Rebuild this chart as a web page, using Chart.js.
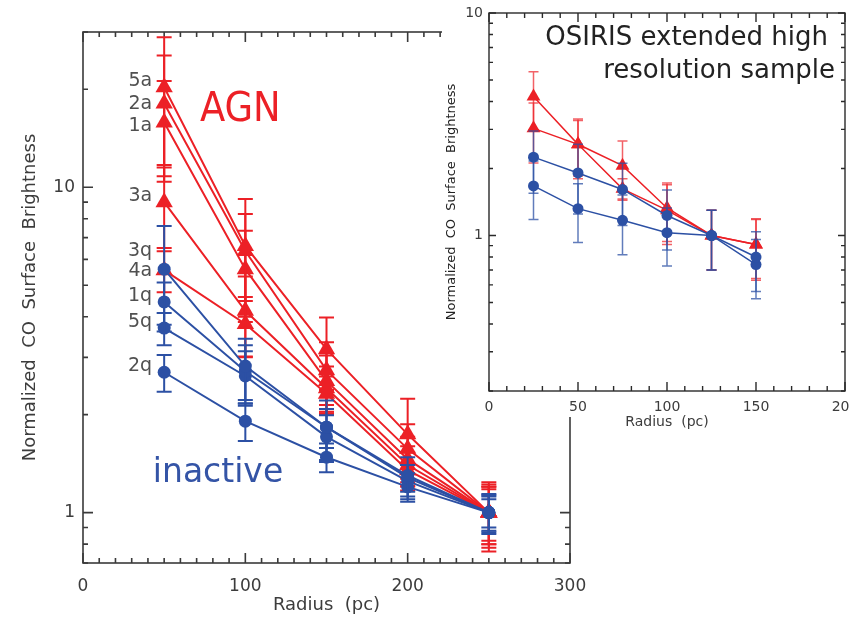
<!DOCTYPE html>
<html>
<head>
<meta charset="utf-8">
<script src="https://cdn.jsdelivr.net/npm/chart.js@4.4.1/dist/chart.umd.min.js"></script>
<style>
body { margin: 0; background: #fff; }
#wrap { position: relative; width: 854px; height: 622px; overflow: hidden; }
#main { position: absolute; left: 0; top: 0; }
#blank { position: absolute; left: 442px; top: 0; width: 412px; height: 417px; background: #fff; }
#insetBox { position: absolute; left: 442px; top: 0; width: 407px; height: 432px; overflow: hidden; }
</style>
</head>
<body>
<div id="wrap">
<canvas id="main" width="854" height="622"></canvas>
<div id="blank"></div>
<div id="insetBox"><canvas id="inset" width="440" height="432"></canvas></div>
</div>
<script>
Chart.defaults.font.family = '"DejaVu Sans", sans-serif';
Chart.defaults.color = '#3c3c3c';

var RED = 'rgb(236,32,38)';
var BLUE = 'rgb(44,80,164)';

// main panel, radius in pc
var radius = [50, 100, 150, 200, 250];

var agnTags = ['5a', '2a', '1a', '3a', '4a'];
var agn5a = [20.3, 6.6, 3.18, 1.74, 1.0];
var agn2a = [18.1, 6.37, 2.74, 1.57, 1.0];
var agn1a = [15.8, 5.6, 2.54, 1.46, 1.0];
var agn3a = [9.0, 4.17, 2.41, 1.40, 1.0];
var agn4a = [5.56, 3.8, 2.32, 1.35, 1.0];
var err5a = [8.6, 2.6, 0.8, 0.5, 0.22];
var err2a = [7.3, 1.9, 0.6, 0.3, 0.2];
var err1a = [5.4, 1.75, 0.5, 0.25, 0.18];
var err3a = [2.5, 1.15, 0.4, 0.2, 0.24];
var err4a = [0.8, 0.8, 0.3, 0.18, 0.2];

var inaTags = ['3q', '1q', '5q', '2q'];
var ina3q = [5.6, 2.82, 1.83, 1.30, 1.0];
var ina1q = [4.44, 2.72, 1.83, 1.28, 1.0];
var ina5q = [3.69, 2.63, 1.71, 1.25, 1.0];
var ina2q = [2.70, 1.91, 1.48, 1.20, 1.0];
var err3q = [2.0, 0.6, 0.38, 0.18, 0.13];
var err1q = [0.66, 0.55, 0.25, 0.12, 0.12];
var err5q = [0.42, 0.5, 0.28, 0.15, 0.14];
var err2q = [0.35, 0.25, 0.15, 0.12, 0.1];

// where the galaxy tags sit on the y axis
var agnTagAt = [21.2, 18.0, 15.4, 9.38, 5.52];
var inaTagAt = [6.36, 4.62, 3.85, 2.82];

var mainXLabels = [0, 100, 200, 300];
var mainYLabels = [1, 10];
var mainYTicks = [0.7, 0.8, 0.9, 1, 2, 3, 4, 5, 6, 7, 8, 9, 10, 20, 30];

// inset: OSIRIS sample
var osRadius = [25, 50, 75, 100, 125, 150];
var osAgnA = [4.21, 2.57, 2.06, 1.33, 1.0, 0.91];
var osAgnB = [3.03, 2.57, 1.62, 1.30, 1.0, 0.91];
var osInaC = [2.25, 1.91, 1.61, 1.23, 1.0, 0.80];
var osInaD = [1.67, 1.32, 1.17, 1.03, 1.0, 0.74];
var osErrA = [1.23, 0.72, 0.6, 0.39, 0.3, 0.28];
var osErrB = [0.91, 0.77, 0.18, 0.39, 0.3, 0.27];
var osErrC = [0.7, 0.66, 0.5, 0.37, 0.3, 0.24];
var osErrD = [0.49, 0.39, 0.35, 0.3, 0.3, 0.22];

var osXLabels = [0, 50, 100, 150, 200];
var osYLabels = [1, 10];
var osYTicks = [0.2, 0.3, 0.4, 0.5, 0.6, 0.7, 0.8, 0.9, 1, 2, 3, 4, 5, 6, 7, 8, 9, 10];

function xTicks(labels, step) {
	var out = [];
	for (var v = labels[0]; v <= labels[labels.length - 1]; v += step) out.push({ value: v });
	return out;
}

function series(vals, errs, xs, color, errColor, style, r, lw, order) {
	return {
		data: vals.map(function (v, i) { return { x: xs[i], y: v }; }),
		errors: errs,
		errorColor: errColor,
		borderColor: color,
		backgroundColor: color,
		pointBackgroundColor: color,
		borderWidth: lw,
		pointStyle: style,
		pointRadius: r,
		pointBorderWidth: 0,
		tension: 0,
		order: order,
		clip: false
	};
}

// error bars, drawn under each dataset's own line and markers
var errorBars = {
	id: 'errorBars',
	beforeDatasetDraw: function (chart, args, o) {
		var ds = chart.data.datasets[args.index];
		if (!ds.errors) return;
		var y = chart.scales.y, ctx = chart.ctx;
		ctx.save();
		ctx.strokeStyle = ds.errorColor;
		ctx.lineWidth = o.width;
		args.meta.data.forEach(function (pt, i) {
			var v = ds.data[i].y, e = ds.errors[i];
			var top = y.getPixelForValue(v + e);
			var bot = y.getPixelForValue(Math.max(v - e, 0.01));
			ctx.beginPath();
			ctx.moveTo(pt.x, top); ctx.lineTo(pt.x, bot);
			ctx.moveTo(pt.x - o.cap, top); ctx.lineTo(pt.x + o.cap, top);
			ctx.moveTo(pt.x - o.cap, bot); ctx.lineTo(pt.x + o.cap, bot);
			ctx.stroke();
		});
		ctx.restore();
	}
};

// box with inward tick marks on all four sides
var frame = {
	id: 'frame',
	beforeDatasetsDraw: function (chart, args, o) {
		var ctx = chart.ctx, a = chart.chartArea, x = chart.scales.x, y = chart.scales.y;
		ctx.save();
		ctx.strokeStyle = o.color;
		ctx.lineWidth = o.width;
		ctx.strokeRect(a.left, a.top, a.right - a.left, a.bottom - a.top);
		ctx.beginPath();
		x.ticks.forEach(function (t) {
			var p = x.getPixelForValue(t.value);
			var len = t.label !== '' ? o.major : o.minor;
			ctx.moveTo(p, a.bottom); ctx.lineTo(p, a.bottom - len);
			ctx.moveTo(p, a.top); ctx.lineTo(p, a.top + len);
		});
		y.ticks.forEach(function (t) {
			var p = y.getPixelForValue(t.value);
			var len = t.label !== '' ? o.majorY : o.minorY;
			ctx.moveTo(a.left, p); ctx.lineTo(a.left + len, p);
			ctx.moveTo(a.right, p); ctx.lineTo(a.right - len, p);
		});
		ctx.stroke();
		ctx.restore();
	}
};

var mainText = {
	id: 'mainText',
	afterDatasetsDraw: function (chart) {
		var ctx = chart.ctx, x = chart.scales.x, y = chart.scales.y;
		ctx.save();
		ctx.font = '19px "DejaVu Sans"';
		ctx.fillStyle = '#505050';
		ctx.textAlign = 'right';
		ctx.textBaseline = 'middle';
		var tx = x.getPixelForValue(radius[0]) - 12;
		agnTags.forEach(function (t, i) { ctx.fillText(t, tx, y.getPixelForValue(agnTagAt[i])); });
		inaTags.forEach(function (t, i) { ctx.fillText(t, tx, y.getPixelForValue(inaTagAt[i])); });
		ctx.textAlign = 'left';
		ctx.textBaseline = 'alphabetic';
		ctx.fillStyle = RED;
		ctx.font = '41px "DejaVu Sans Condensed", "DejaVu Sans"';
		ctx.fillText('AGN', x.getPixelForValue(72), y.getPixelForValue(15.95));
		ctx.fillStyle = 'rgb(52,84,166)';
		ctx.font = '33px "DejaVu Sans"';
		ctx.fillText('inactive', x.getPixelForValue(43), y.getPixelForValue(1.24));
		ctx.restore();
	}
};

var insetText = {
	id: 'insetText',
	afterDatasetsDraw: function (chart) {
		var ctx = chart.ctx;
		ctx.save();
		ctx.font = '26px "DejaVu Sans"';
		ctx.fillStyle = '#222';
		ctx.textAlign = 'right';
		ctx.fillText('OSIRIS extended high', 386, 45);
		ctx.fillText('resolution sample', 393, 78);
		ctx.restore();
	}
};

new Chart(document.getElementById('main'), {
	type: 'line',
	data: {
		datasets: [
			series(agn5a, err5a, radius, RED, RED, 'triangle', 10, 2, 1),
			series(agn2a, err2a, radius, RED, RED, 'triangle', 10, 2, 1),
			series(agn1a, err1a, radius, RED, RED, 'triangle', 10, 2, 1),
			series(agn3a, err3a, radius, RED, RED, 'triangle', 10, 2, 1),
			series(agn4a, err4a, radius, RED, RED, 'triangle', 10, 2, 1),
			series(ina3q, err3q, radius, BLUE, BLUE, 'circle', 6.5, 2, 0),
			series(ina1q, err1q, radius, BLUE, BLUE, 'circle', 6.5, 2, 0),
			series(ina5q, err5q, radius, BLUE, BLUE, 'circle', 6.5, 2, 0),
			series(ina2q, err2q, radius, BLUE, BLUE, 'circle', 6.5, 2, 0)
		]
	},
	options: {
		responsive: false,
		animation: false,
		layout: { padding: { left: 0, right: 284, top: 32, bottom: 0 } },
		plugins: {
			legend: { display: false },
			tooltip: { enabled: false },
			errorBars: { cap: 7.5, width: 2 },
			frame: { color: '#3a3a3a', width: 1.6, major: 10, minor: 5, majorY: 10, minorY: 5 }
		},
		scales: {
			x: {
				type: 'linear', min: 0, max: 300,
				grid: { display: false, drawTicks: false },
				border: { display: false },
				afterBuildTicks: function (s) { s.ticks = xTicks(mainXLabels, 10); },
				ticks: {
					autoSkip: false, maxRotation: 0, padding: 13,
					font: { size: 17 },
					callback: function (v) { return mainXLabels.indexOf(v) >= 0 ? String(v) : ''; }
				},
				title: { display: true, text: 'Radius  (pc)', font: { size: 18 }, padding: { top: 0, bottom: 6 } },
				afterFit: function (s) { s.height = 59; }
			},
			y: {
				type: 'logarithmic', min: 0.7, max: 30,
				grid: { display: false, drawTicks: false },
				border: { display: false },
				afterBuildTicks: function (s) { s.ticks = mainYTicks.map(function (v) { return { value: v }; }); },
				ticks: {
					autoSkip: false, padding: 8,
					font: { size: 17 },
					callback: function (v) { return mainYLabels.indexOf(v) >= 0 ? String(v) : ''; }
				},
				title: { display: true, text: 'Normalized  CO  Surface  Brightness', font: { size: 18 }, padding: { top: 20, bottom: 0 } },
				afterFit: function (s) { s.width = 83; }
			}
		}
	},
	plugins: [frame, errorBars, mainText]
});

var RED_T = 'rgba(236,32,38,0.7)';
var BLUE_T = 'rgba(44,80,164,0.75)';

new Chart(document.getElementById('inset'), {
	type: 'line',
	data: {
		datasets: [
			series(osAgnA, osErrA, osRadius, RED, RED_T, 'triangle', 8, 1.5, 1),
			series(osAgnB, osErrB, osRadius, RED, RED_T, 'triangle', 8, 1.5, 1),
			series(osInaC, osErrC, osRadius, BLUE, BLUE_T, 'circle', 5.5, 1.5, 0),
			series(osInaD, osErrD, osRadius, BLUE, BLUE_T, 'circle', 5.5, 1.5, 0)
		]
	},
	options: {
		responsive: false,
		animation: false,
		layout: { padding: { left: 0, right: 37, top: 7, bottom: 0 } },
		plugins: {
			legend: { display: false },
			tooltip: { enabled: false },
			errorBars: { cap: 5, width: 1.5 },
			frame: { color: '#2a2a2a', width: 1.4, major: 9, minor: 5, majorY: 7, minorY: 4 }
		},
		scales: {
			x: {
				type: 'linear', min: 0, max: 200,
				grid: { display: false, drawTicks: false },
				border: { display: false },
				afterBuildTicks: function (s) { s.ticks = xTicks(osXLabels, 10); },
				ticks: {
					autoSkip: false, maxRotation: 0, padding: 8,
					font: { size: 14 },
					callback: function (v) { return osXLabels.indexOf(v) >= 0 ? String(v) : ''; }
				},
				title: { display: true, text: 'Radius  (pc)', font: { size: 14 }, padding: { top: 0, bottom: 1 } },
				afterFit: function (s) { s.height = 41; }
			},
			y: {
				type: 'logarithmic', min: 0.2, max: 10,
				grid: { display: false, drawTicks: false },
				border: { display: false },
				afterBuildTicks: function (s) { s.ticks = osYTicks.map(function (v) { return { value: v }; }); },
				ticks: {
					autoSkip: false, padding: 6,
					font: { size: 14, lineHeight: 1 },
					callback: function (v) { return osYLabels.indexOf(v) >= 0 ? String(v) : ''; }
				},
				title: { display: true, text: 'Normalized  CO  Surface  Brightness', color: '#222', font: { size: 13 }, padding: { top: 2, bottom: 0 } },
				afterFit: function (s) { s.width = 47; }
			}
		}
	},
	plugins: [frame, errorBars, insetText]
});
</script>
</body>
</html>
